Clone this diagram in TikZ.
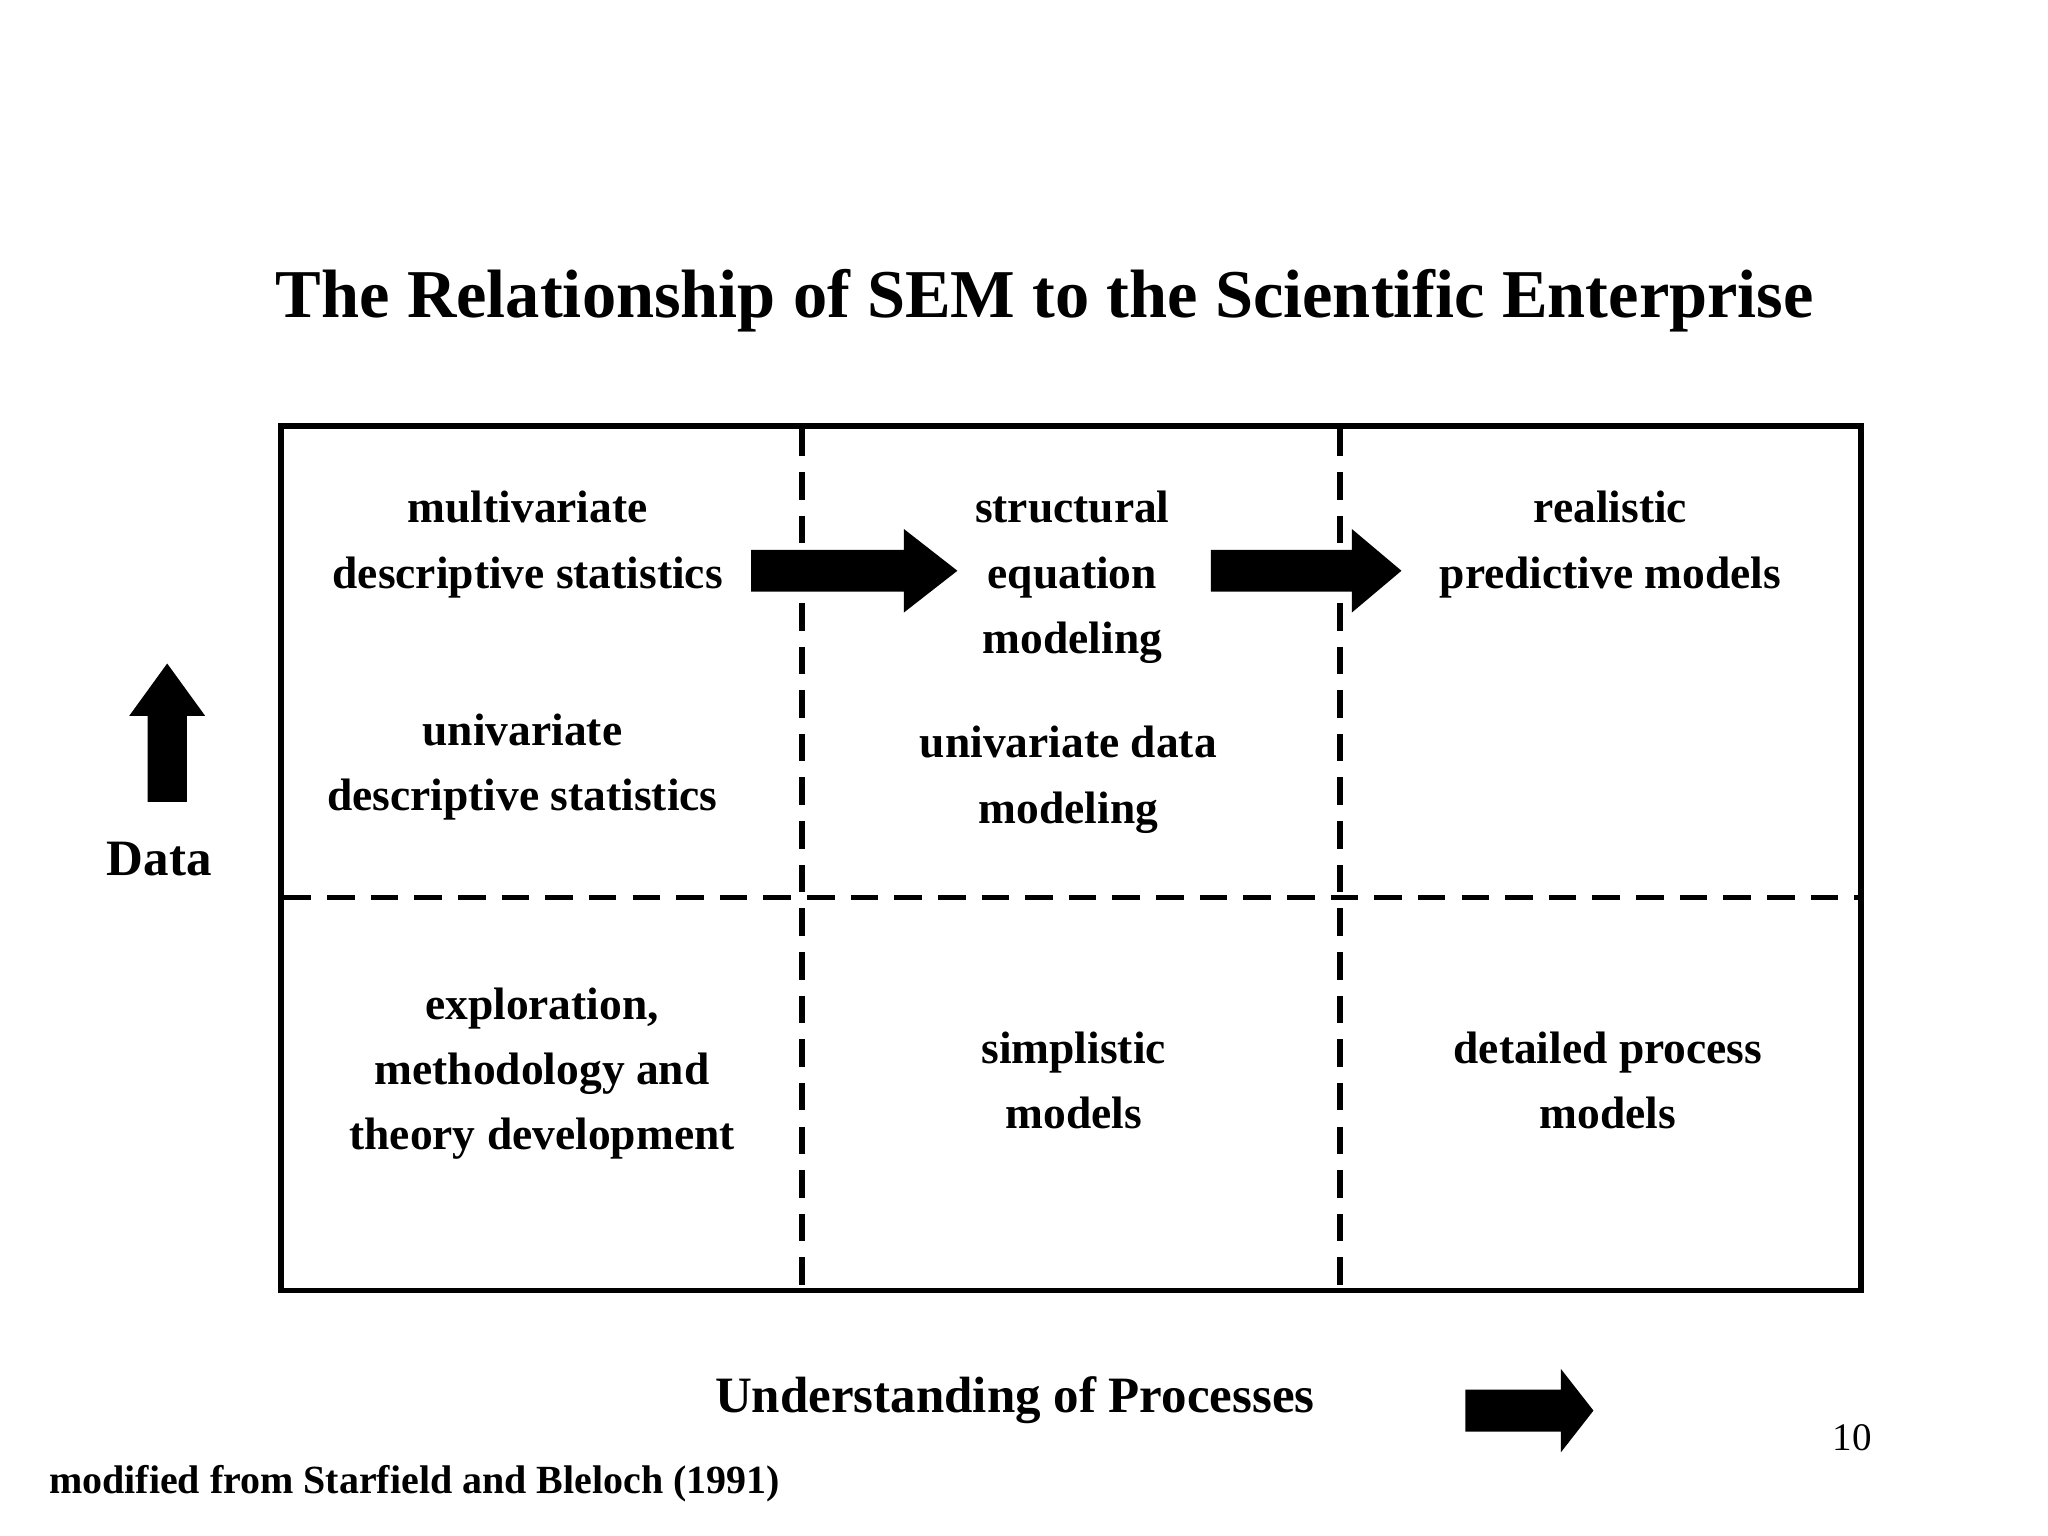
\documentclass[tikz,border=0pt]{standalone}
\usepackage{fontspec}
\setmainfont{Liberation Serif}
\begin{document}
\begin{tikzpicture}[x=0.01cm,y=-0.01cm,
  cell/.style={font=\bfseries\fontsize{9.9}{14.2}\selectfont,align=center,inner sep=0},
  dashline/.style={line width=1.2pt,dash pattern=on 6pt off 3.5pt},
  fatarrow/.style={fill=black}]
\useasboundingbox (0,0) rectangle (1568,1176);
\node[font=\bfseries\fontsize{14.9}{17}\selectfont] (title) at (800,230) {The Relationship of SEM to the Scientific Enterprise};
\draw[line width=1.2pt] (215,326) rectangle (1425,988);
\draw[dashline] (614,328) -- (614,986);
\draw[dashline] (1026,328) -- (1026,986);
\draw[dashline] (217,687) -- (1423,687);
% arrows
\fill[fatarrow] (575,421) -- (692,421) -- (692,405) -- (733,437) -- (692,469) -- (692,453) -- (575,453) -- cycle;
\fill[fatarrow] (927,421) -- (1035,421) -- (1035,405) -- (1073,437) -- (1035,469) -- (1035,453) -- (927,453) -- cycle;
\fill[fatarrow] (113,614) -- (113,548) -- (99,548) -- (128,508) -- (157,548) -- (143,548) -- (143,614) -- cycle;
\fill[fatarrow] (1122,1064) -- (1195,1064) -- (1195,1048) -- (1220,1080) -- (1195,1112) -- (1195,1096) -- (1122,1096) -- cycle;
% cells
\node[cell] (c1) at (404,417) {multivariate\\descriptive statistics};
\node[cell] (c2) at (821,442) {structural\\equation\\modeling};
\node[cell] (c3) at (1233,417) {realistic\\predictive models};
\node[cell] (c4) at (400,587) {univariate\\descriptive statistics};
\node[cell] (c5) at (818,597) {univariate data\\modeling};
\node[cell] (c6) at (415,822) {exploration,\\methodology and\\theory development};
\node[cell] (c7) at (822,827) {simplistic\\models};
\node[cell] (c8) at (1231,827) {detailed process\\models};
\node[font=\bfseries\fontsize{11.1}{13}\selectfont] (data) at (122,658) {Data};
\node[font=\bfseries\fontsize{11.1}{13}\selectfont] (und) at (777,1072) {Understanding of Processes};
\node[font=\fontsize{8.5}{10}\selectfont] (pg) at (1418,1101) {10};
\node[font=\bfseries\fontsize{8.7}{10}\selectfont,anchor=west,inner sep=0] (src) at (37,1136) {modified from Starfield and Bleloch (1991)};
\end{tikzpicture}
\end{document}
